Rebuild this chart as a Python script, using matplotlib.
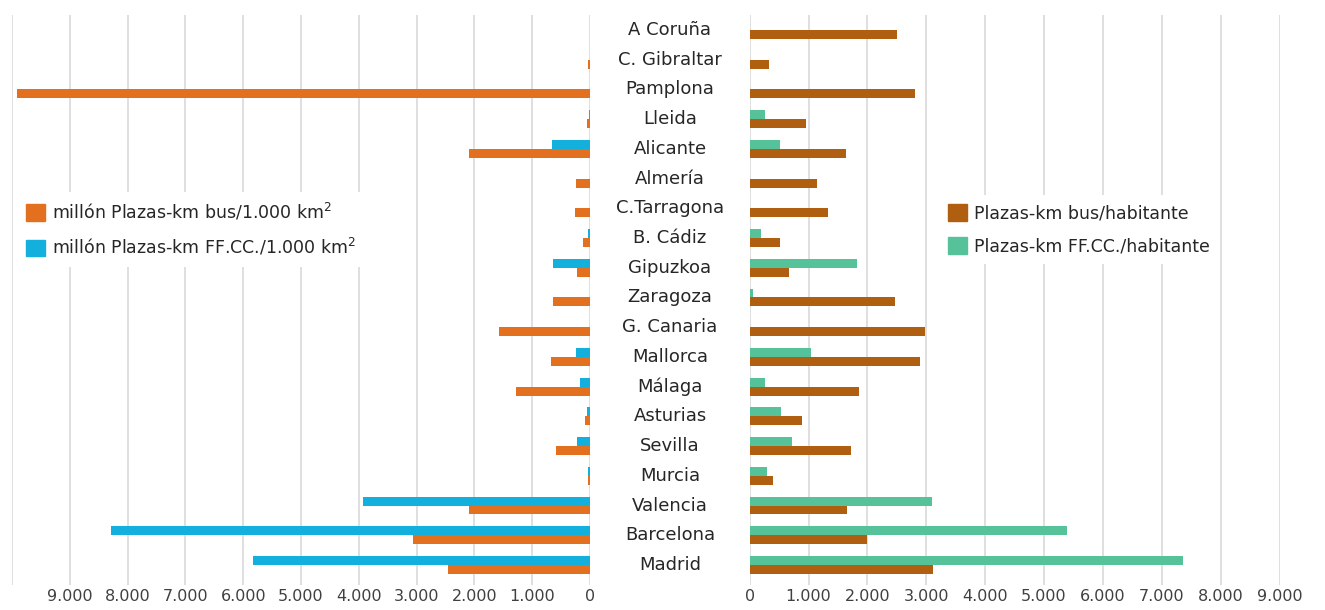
import numpy as np
import matplotlib.pyplot as plt
from matplotlib.patches import Patch
from matplotlib.transforms import blended_transform_factory

# Provinces, top to bottom
ciudades = ['A Coruña', 'C. Gibraltar', 'Pamplona', 'Lleida', 'Alicante', 'Almería',
            'C.Tarragona', 'B. Cádiz', 'Gipuzkoa', 'Zaragoza', 'G. Canaria', 'Mallorca',
            'Málaga', 'Asturias', 'Sevilla', 'Murcia', 'Valencia', 'Barcelona', 'Madrid']

# millón plazas-km per 1.000 km2
bus_km2 = [0, 40, 9920, 60, 2100, 245, 265, 126, 230, 640, 1580, 680,
           1285, 93, 580, 40, 2100, 3070, 2460]
ffcc_km2 = [0, 0, 0, 10, 660, 0, 0, 33, 640, 7, 0, 245,
            180, 60, 230, 40, 3930, 8280, 5830]

# plazas-km per habitante
bus_hab = [2500, 324, 2800, 956, 1643, 1145, 1335, 513, 670, 2464, 2978, 2890,
           1864, 890, 1714, 395, 1660, 2000, 3110]
ffcc_hab = [0, 0, 0, 260, 513, 0, 0, 190, 1817, 55, 0, 1043,
            260, 530, 720, 290, 3096, 5387, 7360]

c_bus_km2 = '#E3701E'
c_ffcc_km2 = '#13AFDD'
c_bus_hab = '#B05F10'
c_ffcc_hab = '#56C299'
grid_c = '#D9D9D9'
txt_c = '#404040'

def fmt(v):
    return f'{v:,.0f}'.replace(',', '.')

fig = plt.figure(figsize=(13.25, 6.1), dpi=100)
bottom, height = 1 - 585 / 610, 570 / 610
ax1 = fig.add_axes([12 / 1325, bottom, 578 / 1325, height])
ax2 = fig.add_axes([749.7 / 1325, bottom, 529.8 / 1325, height])

y = np.arange(len(ciudades))
h = 0.3

ax1.barh(y - h / 2, ffcc_km2, height=h, color=c_ffcc_km2, zorder=3)
ax1.barh(y + h / 2, bus_km2, height=h, color=c_bus_km2, zorder=3)
ax2.barh(y - h / 2, ffcc_hab, height=h, color=c_ffcc_hab, zorder=3)
ax2.barh(y + h / 2, bus_hab, height=h, color=c_bus_hab, zorder=3)

ax1.set_xlim(10000, 0)
ax2.set_xlim(0, 9000)
t1 = np.arange(0, 10001, 1000)
t2 = np.arange(0, 9001, 1000)
ax1.set_xticks(t1)
ax1.set_xticklabels([fmt(v) if v < 10000 else '' for v in t1])
ax2.set_xticks(t2)
ax2.set_xticklabels([fmt(v) for v in t2])

for ax in (ax1, ax2):
    ax.set_ylim(18.675, -0.505)
    ax.set_yticks([])
    ax.grid(axis='x', color=grid_c, lw=1.2, zorder=0)
    ax.tick_params(axis='x', length=0, pad=3, labelsize=11.5, labelcolor=txt_c)
    for s in ax.spines.values():
        s.set_visible(False)

# Province names between the two panels
tr = blended_transform_factory(fig.transFigure, ax2.transData)
for i, name in enumerate(ciudades):
    ax2.text(670 / 1325, i, name, transform=tr, ha='center', va='center',
             fontsize=13, color='#262626')

legend_kw = dict(fontsize=12.5, frameon=True, facecolor='white', edgecolor='none',
                 framealpha=1, fancybox=False, handlelength=1.1, handleheight=1.1,
                 handletextpad=0.4, labelspacing=0.85, borderpad=0.5,
                 borderaxespad=0, loc='center left')

leg1 = fig.legend(handles=[Patch(color=c_bus_km2), Patch(color=c_ffcc_km2)],
                  labels=['millón Plazas-km bus/1.000 km$^2$',
                          'millón Plazas-km FF.CC./1.000 km$^2$'],
                  bbox_to_anchor=(17 / 1325, 1 - 229.5 / 610), **legend_kw)
leg2 = fig.legend(handles=[Patch(color=c_bus_hab), Patch(color=c_ffcc_hab)],
                  labels=['Plazas-km bus/habitante', 'Plazas-km FF.CC./habitante'],
                  bbox_to_anchor=(939 / 1325, 1 - 229.5 / 610), **legend_kw)
for leg in (leg1, leg2):
    for t in leg.get_texts():
        t.set_color('#262626')

plt.savefig('out.png', dpi=100)
